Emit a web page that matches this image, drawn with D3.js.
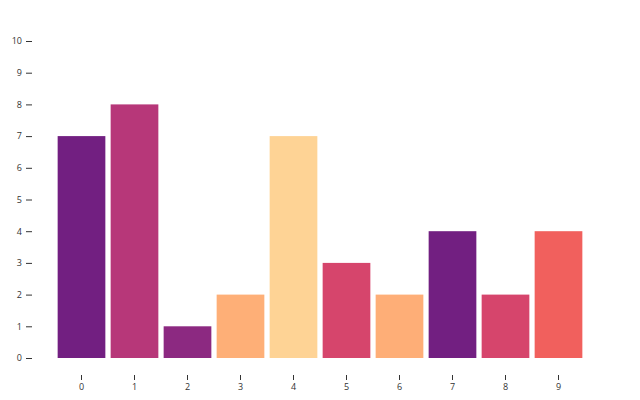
<!DOCTYPE html>
<html><head><meta charset="utf-8">
<script src="https://cdn.jsdelivr.net/npm/d3@7"></script>
<style>body{margin:0;background:#fff}svg{display:block}</style>
</head><body>
<script>
const categories = [0,1,2,3,4,5,6,7,8,9];
const values = [7,8,1,2,7,3,2,4,2,4];
const colors = ["#721f81","#b73779","#8c2981","#feaf77","#fed395","#d6456c","#feae77","#721f81","#d6456c","#f1605d"];
const yTicks = [0,1,2,3,4,5,6,7,8,9,10];

const svg = d3.select("body").append("svg").attr("width",640).attr("height",400);
const x = d3.scaleBand().domain(categories).range([55,585]).paddingInner(0.1).paddingOuter(0.05);
const y = d3.scaleLinear().domain([0,10]).range([358,41]);

svg.selectAll("rect.bar").data(values).join("rect")
  .attr("class","bar")
  .attr("x",(d,i)=>x(categories[i]))
  .attr("width",x.bandwidth())
  .attr("y",d=>y(d))
  .attr("height",d=>y(0)-y(d))
  .attr("fill",(d,i)=>colors[i]);

const font = "'Open Sans', sans-serif";
const ya = svg.append("g").attr("transform","translate(32,0)")
  .call(d3.axisLeft(y).tickValues(yTicks).tickSize(6).tickPadding(4));
ya.select(".domain").remove();
ya.selectAll("text").attr("font-family",font).attr("font-size",9).attr("fill","#333");
ya.selectAll("line").attr("stroke","#333");

const xa = svg.append("g").attr("transform","translate(0,375)")
  .call(d3.axisBottom(x).tickSize(5).tickPadding(4));
xa.select(".domain").remove();
xa.selectAll("text").attr("font-family",font).attr("font-size",9).attr("fill","#333");
xa.selectAll("line").attr("stroke","#333");
</script>
</body></html>
